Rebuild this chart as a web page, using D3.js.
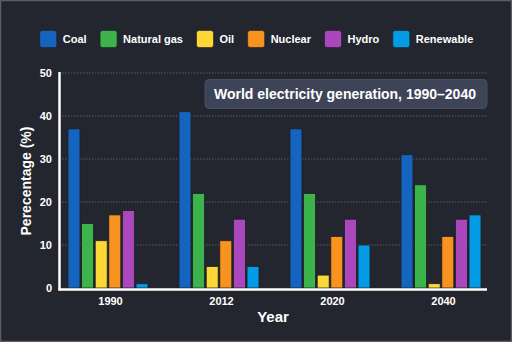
<!DOCTYPE html>
<html>
<head>
<meta charset="utf-8">
<script src="https://cdn.jsdelivr.net/npm/d3@7"></script>
<style>
  html, body { margin: 0; padding: 0; background: #23262e; }
  svg { display: block; }
  text { font-family: "Liberation Sans", Arial, sans-serif; font-weight: bold; fill: #ffffff; }
</style>
</head>
<body>
<svg id="chart" width="512" height="342"></svg>
<script>
// World electricity generation by source, share of total (%)
const years = ["1990", "2012", "2020", "2040"];
const sources = ["Coal", "Natural gas", "Oil", "Nuclear", "Hydro", "Renewable"];
const colors = ["#1565c0", "#3cb44b", "#fdd835", "#f7931e", "#ab47bc", "#039be5"];
const coal = [37, 41, 37, 31];
const naturalGas = [15, 22, 22, 24];
const oil = [11, 5, 3, 1];
const nuclear = [17, 11, 12, 12];
const hydro = [18, 16, 16, 16];
const renewable = [1, 5, 10, 17];
const yTicks = [0, 10, 20, 30, 40, 50];

const seriesValues = [coal, naturalGas, oil, nuclear, hydro, renewable];
const W = 512, H = 342;
const svg = d3.select("#chart");

// frame
svg.append("rect").attr("x", 0.5).attr("y", 0.5).attr("width", W - 1).attr("height", H - 1)
  .attr("fill", "#23262e").attr("stroke", "#5b5e66").attr("stroke-width", 1.5);

const plot = { left: 60, right: 487, top: 73, bottom: 288 };

const x0 = d3.scaleBand().domain(years).range([55, 499]);
const x1 = d3.scaleBand().domain(sources).range([13, 93]).paddingInner(0.12);
const y = d3.scaleLinear().domain([0, 50]).range([plot.bottom, plot.top]);
const color = d3.scaleOrdinal().domain(sources).range(colors);

// gridlines
svg.append("g").selectAll("line").data(yTicks.filter(d => d > 0)).join("line")
  .attr("x1", plot.left + 2).attr("x2", plot.right)
  .attr("y1", d => y(d)).attr("y2", d => y(d))
  .attr("stroke", "#585c68").attr("stroke-width", 1).attr("stroke-dasharray", "1.5,1.5");

// y tick labels
const yAxis = d3.axisLeft(y).tickValues(yTicks).tickSize(0).tickPadding(8);
const gy = svg.append("g").attr("transform", `translate(${plot.left},0)`).call(yAxis);
gy.select(".domain").remove();
gy.selectAll("text").attr("font-size", 11).attr("fill", "#ffffff")
  .style("font-family", "'Liberation Sans', Arial, sans-serif").style("font-weight", "bold");

// bars
const groups = svg.append("g").selectAll("g").data(years).join("g")
  .attr("transform", d => `translate(${x0(d)},0)`);
groups.selectAll("rect")
  .data((yr, i) => sources.map((s, j) => ({ source: s, value: seriesValues[j][i] })))
  .join("rect")
  .attr("x", d => x1(d.source))
  .attr("width", x1.bandwidth())
  .attr("y", d => y(d.value))
  .attr("height", d => y(0) - y(d.value))
  .attr("fill", d => color(d.source))
  .attr("stroke", "#1d2027").attr("stroke-width", 0.8);

// axis lines
svg.append("line").attr("x1", plot.left - 0.5).attr("x2", plot.left - 0.5)
  .attr("y1", plot.top - 1).attr("y2", plot.bottom + 2.5)
  .attr("stroke", "#ffffff").attr("stroke-width", 2.5);
svg.append("line").attr("x1", plot.left - 1.5).attr("x2", plot.right)
  .attr("y1", plot.bottom + 1.5).attr("y2", plot.bottom + 1.5)
  .attr("stroke", "#ffffff").attr("stroke-width", 2.5);

// x tick labels
const xAxis = d3.axisBottom(x0).tickSize(0).tickPadding(8);
const gx = svg.append("g").attr("transform", `translate(0,${plot.bottom + 1})`).call(xAxis);
gx.select(".domain").remove();
gx.selectAll("text").attr("font-size", 11).attr("fill", "#ffffff")
  .style("font-family", "'Liberation Sans', Arial, sans-serif").style("font-weight", "bold");

// axis titles
svg.append("text").attr("x", 273).attr("y", 322).attr("text-anchor", "middle")
  .attr("font-size", 15).text("Year");
svg.append("text").attr("transform", "translate(31,181) rotate(-90)")
  .attr("text-anchor", "middle").attr("font-size", 14).text("Perecentage (%)");

// title badge
svg.append("rect").attr("x", 205).attr("y", 79.5).attr("width", 282).attr("height", 29)
  .attr("rx", 4).attr("fill", "#3d4457").attr("stroke", "#474e61").attr("stroke-width", 1);
svg.append("text").attr("x", 214).attr("y", 99).attr("font-size", 14)
  .text("World electricity generation, 1990\u20132040");

// legend, centred across the top
const legend = svg.append("g");
const items = legend.selectAll("g").data(sources).join("g");
items.append("rect").attr("width", 17).attr("height", 17).attr("rx", 2.5)
  .attr("fill", d => color(d)).attr("stroke", "#1d2027").attr("stroke-width", 0.6);
items.append("text").attr("x", 23).attr("y", 12.5).attr("font-size", 11).text(d => d);
let cx = 0;
items.each(function () {
  const w = this.querySelector("text").getComputedTextLength();
  d3.select(this).attr("transform", `translate(${cx},0)`);
  cx += 23 + w + 13.5;
});
const total = cx - 13.5;
legend.attr("transform", `translate(${(W - total) / 2 + 0.5},30.5)`);
</script>
</body>
</html>
